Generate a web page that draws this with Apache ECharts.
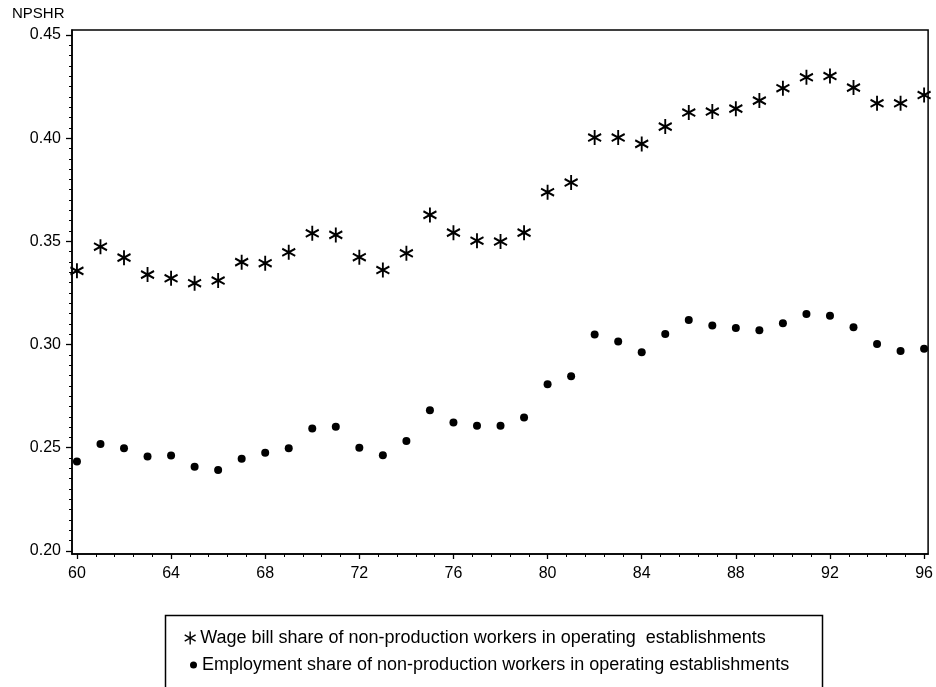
<!DOCTYPE html>
<html>
<head>
<meta charset="utf-8">
<script src="https://cdn.jsdelivr.net/npm/echarts@6/dist/echarts.min.js"></script>
<style>html,body{margin:0;padding:0;background:#fff;}#c{width:936px;height:687px;}</style>
</head>
<body>
<div id="c"></div>
<script>
const years = [60,61,62,63,64,65,66,67,68,69,70,71,72,73,74,75,76,77,78,79,80,81,82,83,84,85,86,87,88,89,90,91,92,93,94,95,96];
const wageShare = [0.3357,0.3474,0.3421,0.3339,0.3321,0.3297,0.3310,0.3399,0.3394,0.3447,0.3539,0.3531,0.3423,0.3361,0.3442,0.3628,0.3542,0.3503,0.3499,0.3542,0.3738,0.3785,0.4003,0.4003,0.3972,0.4056,0.4124,0.4129,0.4143,0.4182,0.4242,0.4295,0.4301,0.4245,0.4169,0.4169,0.4209];
const empShare = [0.2433,0.2518,0.2497,0.2457,0.2462,0.2408,0.2392,0.2446,0.2476,0.2497,0.2593,0.2602,0.2500,0.2463,0.2532,0.2681,0.2622,0.2606,0.2606,0.2646,0.2808,0.2846,0.3048,0.3015,0.2963,0.3051,0.3119,0.3092,0.3080,0.3069,0.3103,0.3148,0.3139,0.3084,0.3003,0.2969,0.2980];
const xTickLabels = [60,64,68,72,76,80,84,88,92,96];
const yTickLabels = [0.20,0.25,0.30,0.35,0.40,0.45];
const wageName = 'Wage bill share of non-production workers in operating  establishments';
const empName = 'Employment share of non-production workers in operating establishments';

const xMinor = []; for (let i = 0; i <= 45; i++) xMinor.push(60 + i * 0.8);
const yMinor = []; for (let i = 0; i <= 50; i++) yMinor.push(+(0.20 + i * 0.005).toFixed(3));

const X_MIN = 59.79, X_MAX = 96.17, Y_MIN = 0.1985, Y_MAX = 0.4524;
const font = 'Liberation Sans, Arial, sans-serif';
const star = 'path://M5,0L5,10M0.8,2.6L9.2,7.4M0.8,7.4L9.2,2.6';

const chart = echarts.init(document.getElementById('c'), null, {renderer: 'canvas'});
chart.setOption({
  animation: false,
  backgroundColor: '#fff',
  title: {text: 'NPSHR', left: 12, top: 3, padding: [3, 0, 3, 0], textStyle: {fontFamily: font, fontSize: 15, fontWeight: 'normal', color: '#000'}},
  grid: {left: 72, top: 30, right: 5, bottom: 133, show: true, borderColor: '#000', borderWidth: 1.5, backgroundColor: 'transparent'},
  xAxis: [{
    type: 'value', min: X_MIN, max: X_MAX,
    axisLine: {show: true, lineStyle: {color: '#000', width: 1.5}},
    axisTick: {show: true, customValues: xTickLabels, length: 5, lineStyle: {color: '#000', width: 1.3}},
    axisLabel: {customValues: xTickLabels, color: '#000', fontFamily: font, fontSize: 16, margin: 12, formatter: v => String(Math.round(v))},
    splitLine: {show: false}
  }, {
    type: 'value', min: X_MIN, max: X_MAX, position: 'bottom',
    axisLine: {show: false},
    axisTick: {show: true, customValues: xMinor, length: 3, lineStyle: {color: '#000', width: 1}},
    axisLabel: {show: false}, splitLine: {show: false}
  }],
  yAxis: [{
    type: 'value', min: Y_MIN, max: Y_MAX,
    axisLine: {show: true, lineStyle: {color: '#000', width: 1.5}},
    axisTick: {show: true, customValues: yTickLabels, length: 6, lineStyle: {color: '#000', width: 1.3}},
    axisLabel: {customValues: yTickLabels, color: '#000', fontFamily: font, fontSize: 16, margin: 11, formatter: v => v.toFixed(2)},
    splitLine: {show: false}
  }, {
    type: 'value', min: Y_MIN, max: Y_MAX, position: 'left',
    axisLine: {show: false},
    axisTick: {show: true, customValues: yMinor, length: 3, lineStyle: {color: '#000', width: 1}},
    axisLabel: {show: false}, splitLine: {show: false}
  }],
  legend: [{
    data: [wageName], left: 184, top: 629, selectedMode: false, padding: 0,
    itemWidth: 12, itemHeight: 13, itemGap: 8,
    itemStyle: {color: '#000', borderColor: '#000', borderWidth: 1.4, opacity: 1},
    textStyle: {fontFamily: font, fontSize: 18, color: '#000', padding: [0, 0, 0, -1]}
  }, {
    data: [empName], left: 190, top: 656, selectedMode: false, padding: 0,
    itemWidth: 7, itemHeight: 7, itemGap: 8, icon: 'circle',
    itemStyle: {color: '#000', borderWidth: 0, opacity: 1},
    textStyle: {fontFamily: font, fontSize: 18, color: '#000', padding: [0, 0, 0, 0]}
  }],
  graphic: [{
    type: 'rect', left: 163, top: 613, shape: {width: 657, height: 100},
    style: {fill: 'none', stroke: '#000', lineWidth: 1.5}, silent: true
  }],
  series: [{
    name: wageName, type: 'scatter', xAxisIndex: 0, yAxisIndex: 0,
    data: years.map((y, i) => [y, wageShare[i]]),
    symbol: star, symbolSize: [13, 15],
    itemStyle: {color: '#000', borderColor: '#000', borderWidth: 2, opacity: 1}
  }, {
    name: empName, type: 'scatter', xAxisIndex: 0, yAxisIndex: 0,
    data: years.map((y, i) => [y, empShare[i]]),
    symbol: 'circle', symbolSize: 8,
    itemStyle: {color: '#000', opacity: 1}
  }]
});
</script>
</body>
</html>
